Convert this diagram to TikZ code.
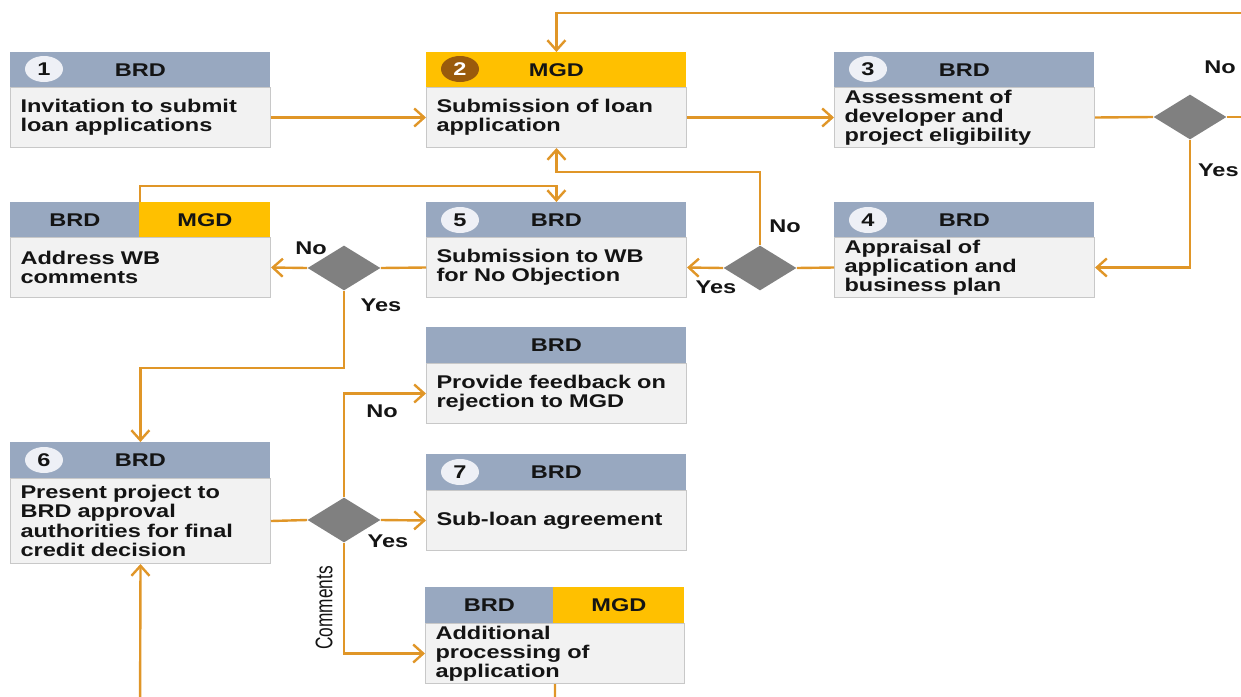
\documentclass[tikz,border=0pt]{standalone}
\usepackage{fontspec}
\setmainfont{Liberation Sans}[FakeStretch=1.28]
\newfontfamily\condfont{Liberation Sans}[FakeStretch=0.72]
\usetikzlibrary{shapes.geometric,arrows.meta}
\definecolor{hdr}{HTML}{98A8C0}
\definecolor{ylw}{HTML}{FFC000}
\definecolor{bodyc}{HTML}{F2F2F2}
\definecolor{bord}{HTML}{C8C8C8}
\definecolor{badgec}{HTML}{EEF0F6}
\definecolor{brownc}{HTML}{9A5B0C}
\definecolor{decc}{HTML}{808080}
\definecolor{flowc}{HTML}{E09628}
\definecolor{txt}{HTML}{141414}
\begin{document}
\begin{tikzpicture}[x=0.5pt,y=-0.5pt,
  every node/.style={font=\fontsize{9.2}{9.6}\selectfont\bfseries, text=txt},
  hdrbox/.style={fill=hdr, minimum height=18pt, inner sep=0pt, anchor=north west},
  ybox/.style={hdrbox, fill=ylw},
  body/.style={fill=bodyc, draw=bord, line width=0.5pt, anchor=north west, text width=120pt, inner xsep=5pt, inner ysep=0pt, align=left, minimum height=30pt},
  badge/.style={ellipse, fill=badgec, minimum width=19pt, minimum height=13pt, inner sep=0pt},
  dec/.style={diamond, fill=decc, minimum width=36.5pt, minimum height=22.5pt, inner sep=0pt},
  flow/.style={draw=flowc, line width=1.2pt, -{Straight Barb[length=5pt,width=9pt,line width=1.2pt]}},
  link/.style={draw=flowc, line width=1.2pt},
  lbl/.style={inner sep=0pt}]
\useasboundingbox (0,0) rectangle (1241,696);
\clip (0,0) rectangle (1241,696);

% Box 1
\node[hdrbox, minimum width=130pt] (h1) at (10,52) {BRD};
\node[body] (b1) at (10,87) {Invitation to submit\\loan applications};
\node[badge] (n1) at (44,69) {1};
% Box 2
\node[ybox, minimum width=130pt] (h2) at (426,52) {MGD};
\node[body] (b2) at (426,87) {Submission of loan\\application};
\node[badge, fill=brownc, text=white] (n2) at (460,69) {2};
% Box 3
\node[hdrbox, minimum width=130pt] (h3) at (834,52) {BRD};
\node[body] (b3) at (834,87) {Assessment of\\developer and\\project eligibility};
\node[badge] (n3) at (868,69) {3};
% Box 4
\node[hdrbox, minimum width=130pt] (h4) at (834,202) {BRD};
\node[body] (b4) at (834,237) {Appraisal of\\application and\\business plan};
\node[badge] (n4) at (868,220) {4};
% Box 5
\node[hdrbox, minimum width=130pt] (h5) at (426,202) {BRD};
\node[body] (b5) at (426,237) {Submission to WB\\for No Objection};
\node[badge] (n5) at (460,220) {5};
% Address WB comments
\node[hdrbox, minimum width=64.5pt] (haB) at (10,202) {BRD};
\node[ybox, minimum width=65.5pt] (haM) at (139,202) {MGD};
\node[body] (ba) at (10,237) {Address WB\\comments};
% Feedback
\node[hdrbox, minimum width=130pt] (hf) at (426,327) {BRD};
\node[body] (bf) at (426,363) {Provide feedback on\\rejection to MGD};
% Box 6
\node[hdrbox, minimum width=130pt] (h6) at (10,442) {BRD};
\node[body, minimum height=42.5pt] (b6) at (10,478) {Present project to\\BRD approval\\authorities for final\\credit decision};
\node[badge] (n6) at (44,460) {6};
% Box 7
\node[hdrbox, minimum width=130pt] (h7) at (426,454) {BRD};
\node[body] (b7) at (426,490) {Sub-loan agreement};
\node[badge] (n7) at (460,472) {7};
% Additional processing
\node[hdrbox, minimum width=64pt] (hxB) at (425,587) {BRD};
\node[ybox, minimum width=65.5pt] (hxM) at (553,587) {MGD};
\node[body, text width=119.5pt] (bx) at (425,623) {Additional\\processing of\\application};

% Decisions
\node[dec] (d1) at (1190,117) {};
\node[dec] (d2) at (760,268) {};
\node[dec] (d3) at (344,268) {};
\node[dec] (d4) at (344,520) {};

% Connectors
\coordinate (topR) at (1262,13);
\coordinate (botL) at (140,725);
\draw[flow] (b1.east) -- (b2.west);
\draw[flow] (b2.east) -- (b3.west);
\draw[link] (b3.east) -- (d1.west);
\draw[flow] (d1.east) -- (d1.east -| topR) -- (topR) -- (topR -| h2.north) -- (h2.north);
\draw[flow] (d1.south) |- (b4.east);
\draw[link] (b4.west) -- (d2.east);
\draw[flow] (d2.west) -- (b5.east);
\draw[flow] (d2.north) -- ++(0,-73) -| (b2.south);
\draw[link] (b5.west) -- (d3.east);
\draw[flow] (d3.west) -- (ba.east);
\draw[flow] (haB.north east) -- ++(0,-16) -| (h5.north);
\draw[flow] (d3.south) -- ++(0,77) -| (h6.north);
\draw[link] (b6.east) -- (d4.west);
\draw[flow] (d4.east) -- (b7.west);
\draw[flow] (d4.north) |- (bf.west);
\draw[flow] (d4.south) |- (bx.west);
\draw[flow] (bx.south) -- (bx.south |- botL) -- (botL) -- (b6.south);

% Labels
\node[lbl] (l1) at (1220,67) {No};
\node[lbl, anchor=east] (l2) at (1239,170) {Yes};
\node[lbl] (l3) at (785,226) {No};
\node[lbl] (l4) at (716,287) {Yes};
\node[lbl] (l5) at (311,248) {No};
\node[lbl] (l6) at (381,305) {Yes};
\node[lbl] (l7) at (382,411) {No};
\node[lbl] (l8) at (388,541) {Yes};
\node[lbl, rotate=90, font=\condfont\fontsize{12}{12}\selectfont] (cm) at (324,608) {Comments};
\end{tikzpicture}
\end{document}
